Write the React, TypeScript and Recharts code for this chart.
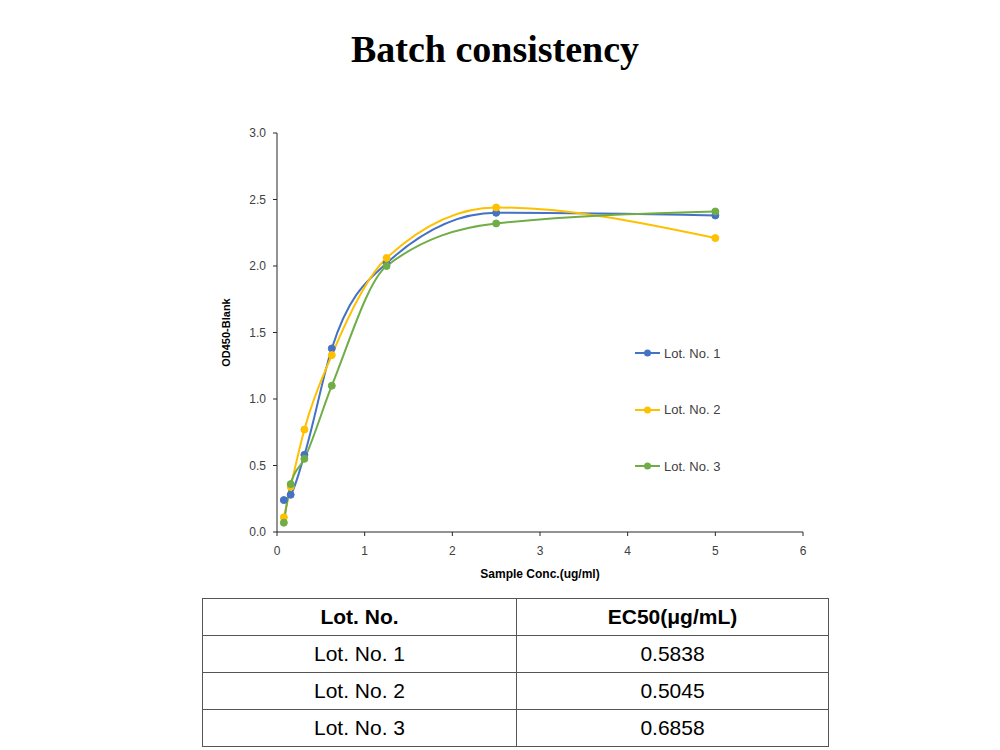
import React from "react"
import { LineChart, Line, XAxis, YAxis } from "recharts"

const concentrations = [0.078, 0.156, 0.3125, 0.625, 1.25, 2.5, 5]
const lot1 = [0.24, 0.28, 0.58, 1.38, 2.02, 2.4, 2.38]
const lot2 = [0.11, 0.34, 0.77, 1.33, 2.06, 2.44, 2.21]
const lot3 = [0.07, 0.36, 0.55, 1.1, 2.0, 2.32, 2.41]

const xTicks = [0, 1, 2, 3, 4, 5, 6]
const yTicks = [0, 0.5, 1, 1.5, 2, 2.5, 3]

const lotNames = ["Lot. No. 1", "Lot. No. 2", "Lot. No. 3"]
const ec50 = ["0.5838", "0.5045", "0.6858"]

const colors = ["#4472C4", "#FFC000", "#70AD47"]

const data = concentrations.map((c, i) => ({
  conc: c,
  lot1: lot1[i],
  lot2: lot2[i],
  lot3: lot3[i],
}))

const sans = "Liberation Sans, Arial, sans-serif"
const tickStyle = { fontSize: 12, fill: "#404040", fontFamily: sans }

function LegendBox() {
  return (
    <div style={{ position: "absolute", left: 634, top: 325, fontFamily: sans, fontSize: 13, color: "#404040" }}>
      {lotNames.map((name, i) => (
        <div key={name} style={{ display: "flex", alignItems: "center", height: 56.5 }}>
          <svg width={28} height={10}>
            <line x1={1} y1={5} x2={26} y2={5} stroke={colors[i]} strokeWidth={2} />
            <circle cx={13.5} cy={5} r={3.5} fill={colors[i]} />
          </svg>
          <span style={{ marginLeft: 2 }}>{name}</span>
        </div>
      ))}
    </div>
  )
}

const cell: React.CSSProperties = {
  border: "1px solid #555",
  height: 36,
  padding: 0,
  textAlign: "center",
  verticalAlign: "middle",
}

export default function App() {
  return (
    <div style={{ position: "absolute", left: 0, top: 0, width: 1000, height: 750, background: "#fff" }}>
      <div
        style={{
          position: "absolute",
          top: 27,
          left: 0,
          width: 990,
          textAlign: "center",
          fontFamily: "Liberation Serif, Times New Roman, serif",
          fontWeight: "bold",
          fontSize: 38,
          color: "#000",
        }}
      >
        Batch consistency
      </div>
      <div style={{ position: "absolute", left: 0, top: 0 }}>
        <LineChart width={1000} height={600} data={data} margin={{ top: 133, left: 237, right: 197, bottom: 38 }}>
          <XAxis
            dataKey="conc"
            type="number"
            domain={[0, 6]}
            ticks={xTicks}
            tick={tickStyle}
            stroke="#262626"
            tickSize={4}
            tickMargin={10}
            height={30}
            label={{
              value: "Sample Conc.(ug/ml)",
              position: "bottom",
              offset: 7,
              style: { fontSize: 12, fontWeight: "bold", fill: "#000", fontFamily: sans },
            }}
          />
          <YAxis
            type="number"
            domain={[0, 3]}
            ticks={yTicks}
            tickFormatter={(v: number) => v.toFixed(1)}
            tick={tickStyle}
            stroke="#262626"
            tickSize={4}
            tickMargin={7}
            width={40}
            label={{
              value: "OD450-Blank",
              angle: -90,
              position: "left",
              offset: 11,
              style: { fontSize: 11, fontWeight: "bold", fill: "#000", fontFamily: sans, textAnchor: "middle" },
            }}
          />
          {["lot1", "lot2", "lot3"].map((k, i) => (
            <Line
              key={k}
              dataKey={k}
              name={lotNames[i]}
              type="monotone"
              stroke={colors[i]}
              strokeWidth={2}
              dot={{ r: 3.5, fill: colors[i], stroke: colors[i], strokeWidth: 1 }}
              isAnimationActive={false}
            />
          ))}
        </LineChart>
      </div>
      <LegendBox />
      <table
        style={{
          position: "absolute",
          left: 202,
          top: 598,
          width: 627,
          borderCollapse: "collapse",
          fontFamily: sans,
          fontSize: 21,
          color: "#000",
        }}
      >
        <tbody>
          <tr>
            <td style={{ ...cell, width: 313, fontWeight: "bold" }}>Lot. No.</td>
            <td style={{ ...cell, fontWeight: "bold" }}>EC50(μg/mL)</td>
          </tr>
          {lotNames.map((name, i) => (
            <tr key={name}>
              <td style={cell}>{name}</td>
              <td style={cell}>{ec50[i]}</td>
            </tr>
          ))}
        </tbody>
      </table>
    </div>
  )
}
